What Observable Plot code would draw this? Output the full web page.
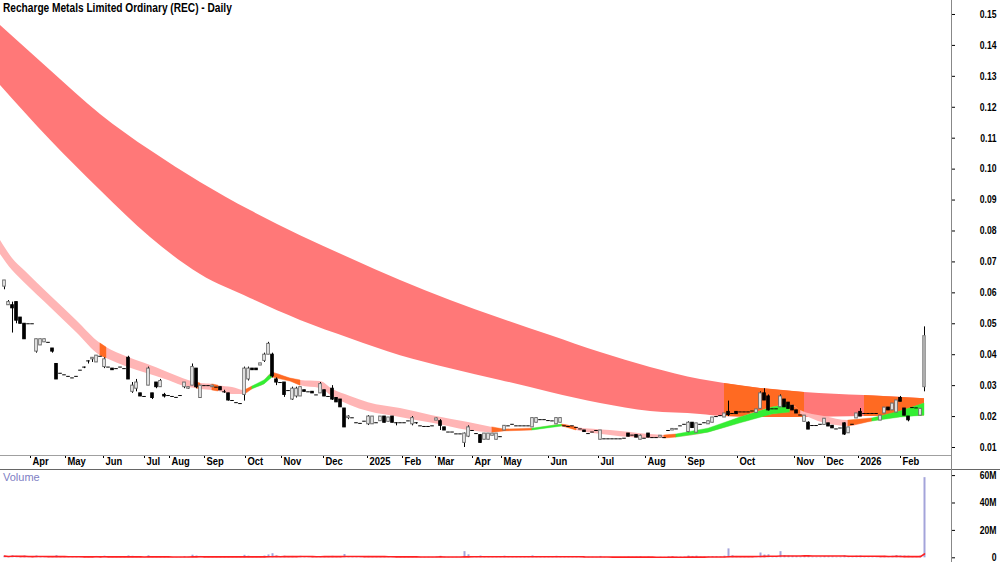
<!DOCTYPE html>
<html><head><meta charset="utf-8">
<script src="https://cdn.jsdelivr.net/npm/d3@7"></script>
<script src="https://cdn.jsdelivr.net/npm/@observablehq/plot@0.6"></script>
<style>
body{margin:0;background:#fff;}
#wrap{position:relative;width:1000px;height:562px;overflow:hidden;font-family:"Liberation Sans",Arial,sans-serif;}
#price{position:absolute;left:0;top:0;}
#vol{position:absolute;left:0;top:470px;}
.title{position:absolute;left:3px;top:0px;font-weight:bold;font-size:13px;color:#000;transform:scaleX(0.78);transform-origin:left top;white-space:nowrap;}
.vlabel{position:absolute;left:3px;top:471px;font-size:11px;color:#8080c4;}
.hl1{position:absolute;left:0;top:455px;width:952px;height:1px;background:#a0a0a0;}
.hl2{position:absolute;left:0;top:469px;width:1000px;height:1px;background:#666;}
.vl{position:absolute;left:951px;top:0;width:1px;height:562px;background:#888;}
</style></head>
<body><div id="wrap">
<div id="price"></div><div id="vol"></div>
<div class="hl1"></div><div class="hl2"></div><div class="vl"></div>
<div class="title">Recharge Metals Limited Ordinary (REC) - Daily</div>
<div class="vlabel">Volume</div>
</div>
<script>
// ---- Price candles (values in thousandths of a dollar), one per trading bar ----
const openM = [62,56,56,57,52,50,50,50,41,43,
 44,44,42,37,34,33.5,33,32.5,33,35,
 36,38,38.5,37.5,39.5,36,36,35.5,35.5,36,
 35.5,39,28,29,27.5,26.5,30,27.5,31,29.5,
 27,26.8,26.5,26.2,26.8,29.5,29,30,35.5,26,
 30,30,29.5,29.5,29.5,28,27.5,25.2,24.5,24.2,
 27,32,35.5,35.5,36.5,38,40,40,32,31,
 31,28.4,25.5,26.5,26.5,28.5,28,28,27,27.5,
 28.5,26.5,29,26,25.5,22.6,19.5,19.6,18,17.8,
 18.5,17.5,17.5,18,18.5,20,18.3,20,18,18,
 18,18.6,17.5,18,17,16.8,16.8,17,18.7,18.5,
 16.5,15,15,14.4,14.4,11.5,13.5,15.5,14.5,14,
 12.5,12.5,13.8,12.5,13.5,15.5,17,17.5,17,17,
 17,17,16.5,18,19,19,18.7,18.6,17.5,18,
 17,16.8,17,16.5,16,15.5,14.5,15,15.5,12.5,
 12.8,12.8,12.8,12.8,12.8,13,14.5,14,14,12.5,
 13,14.5,13.2,13.2,13.2,13.2,15.5,15.5,16,17,
 17.5,15,18,14.8,17.5,18,17.5,18,20,20.3,
 19.7,21.5,21,21.5,21.5,21.5,21.5,21.8,21.2,22.5,
 27.5,26.5,22.5,22.5,23,25.5,24.5,23.5,22,20.5,
 18.3,18,17.1,17.1,17.5,17.3,17.8,17,16,16.3,
 17.8,14.6,17.5,19.4,21.5,21,21,21,21,18.7,
 21,22.9,22,21.3,26,22.6,20,22.9,22.8,20.3,
 29.5];
const highM = [64,57.5,57,57,52,50,50,50,45,45,
 45,44,42,37,34,33.5,33,32.5,33,35,
 36,38,39,39.7,39.5,39,36,35.5,35.5,36,
 35.5,39.5,31,32,27.5,26.5,36,27.5,31,32,
 27.5,26.8,26.5,26.2,26.8,31,29.5,37,35.5,30,
 30,30,30,29.5,29.5,28.5,27.5,25.2,24.5,24.2,
 36,36,35.5,35.5,37.2,40.5,44,40.5,32.5,31,
 31,28.4,29.5,29.5,29.5,28.5,28,28,27,31,
 28.5,26.5,30,26,25.5,22.6,20.3,19.6,18,17.8,
 18.5,20.3,20,18,20,20,19.7,20,18,18,
 18,18.6,20,18,17,16.8,16.8,17,19.5,19,
 16.5,15,15,14.4,14.4,14.7,17,15.5,14.5,14.2,
 14.5,14.5,14.5,14.5,13.5,17,17,17.5,17,17,
 17,17,19.5,19.6,19,19,18.7,18.6,19.5,19.5,
 17,16.8,17,16.5,16,15.5,14.5,15,15.5,15.5,
 12.8,12.8,12.8,12.8,12.8,13,14.5,14,14,14,
 13,14.5,13.2,13.2,13.8,13.2,15.5,16,16,17,
 17.5,18.3,18,17.8,17.5,18,18.5,19.7,20,20.3,
 21,25,21,21.5,21.5,21.5,21.5,21.8,22.3,28,
 29,27,22.5,22.5,27,25.5,24.5,23.5,22,20.5,
 20.3,18.3,17.1,17.1,17.5,19.3,17.8,17,16,16.3,
 18,16.5,17.5,21,22.6,21,21,21,21,20.3,
 22.9,22.9,24.2,25.2,26.5,22.6,20,22.9,22.8,22.5,
 49];
const lowM = [61,56,47,50,50,45,50,50,40.5,43,
 44,44,40.5,32,34,33.5,33,32.5,33,35,
 35.5,37,37.5,37.5,39.5,35.5,36,35,35.5,36,
 35.5,32,27.5,28,26.5,26.5,30,25.5,29,29.5,
 26,26.8,26.5,26.2,26.8,29,28.8,30,29,26,
 30,30,29.5,29.5,28.5,27.5,25,25.2,24.5,24.2,
 25,31.5,35,35,36.5,37.5,40,32.5,30,31,
 26.2,28.4,25.2,26,26.5,28,28,27.5,27,27.5,
 26.5,26.5,25.2,24.6,23,16.5,19,19.6,18,17.8,
 18.5,17.1,17.5,18,18.5,18,18.3,18,17,18,
 18,18.6,17,17.5,17,16.8,16.8,17,18.7,15.5,
 15.5,15,15,14.4,14.4,10,13.2,15.5,14.5,11.3,
 12.5,12.5,13.8,12.5,13.5,15.5,17,17.5,17,17,
 17,17,16.5,18,19,19,18.7,18.6,17.5,18,
 17,16.8,17,16.5,16,15,14.5,15,15.5,12.5,
 12.8,12.8,12.8,12.8,12.8,13,13.5,14,13.2,12.5,
 13,13.2,13.2,13.2,13.2,13.2,15.5,15.5,16,17,
 17.5,14.8,16.3,14.8,17.5,18,17.5,18,20,20.3,
 19.7,20,21,20.8,21.5,21.5,21.5,21.8,21.2,22.5,
 25.2,21.8,22.5,22.5,23,23,22.5,22,21,20.5,
 18.3,15.8,17.1,17.1,17.5,17.3,16.8,16.2,16,16.3,
 13.9,14.6,17.5,19.4,20,21,21,21,21,18.7,
 21,22,22,21.3,24.8,20.3,18.3,22.9,22.8,20.3,
 28];
const closeM = [64,57,55,51,50,45,50,50,45,45,
 45,44,41,32,34,33.5,33,32.5,33,35,
 36,38,39,39.7,39.5,38.5,36,35,35.5,36,
 35.5,32,30,31,26.5,26.5,35.5,26,29.5,31.5,
 26.5,26.8,26.5,26.2,26.8,31,29.5,36,29.5,30,
 30,30,30,29.5,28.5,28,25.2,25.2,24.5,24.2,
 35.5,35.5,35,35,37.2,40,43.5,33,31,31,
 27,28.4,29,29,29.5,28,28,27.5,27,30.5,
 26.5,26.5,25.5,24.6,23,16.5,20,19.6,18,17.8,
 18.5,20,20,18,20,18,19.7,18,18,18,
 18,18.6,19.5,18,17,16.8,16.8,17,19.4,17,
 15.5,15,15,14.4,14.4,14.5,16.5,15.5,14.5,11.5,
 14.5,14.5,14.5,14.5,13.5,17,17,17.5,17,17,
 17,17,19.5,19.5,19,19,18.7,18.6,19.5,19.5,
 17,16.8,17,16.5,16,15,14.5,15,15.5,15.5,
 12.8,12.8,12.8,12.8,12.8,13,13.5,14,13.2,13.8,
 13,13.2,13.2,13.2,13.8,13.2,15.5,16,16,17,
 17.5,18,16.3,17.8,17.5,18,18.5,19.7,20,20.3,
 21,20.5,21,20.8,21.5,21.5,21.5,21.8,22.3,27.5,
 25.2,22,22.5,22.5,26.5,23,22.5,22,21,20.5,
 20.3,15.8,17.1,17.1,17.5,19.3,16.8,16.2,16,16.3,
 14.2,16.5,17.5,21,20,21,21,21,21,20.3,
 22.9,22,24.2,25.2,24.8,20.3,18.8,22.9,22.8,22.5,
 46];
// ---- Volume (millions) ----
const volumeM = [1.2,0.8,1.5,1.1,0.6,1.3,0.3,0.2,1.4,0.9,
 0.7,0.3,0.6,1.6,0.4,0.3,0.2,0.3,0.3,0.4,
 0.5,0.6,0.8,1.0,0.3,1.2,0.4,0.5,0.3,0.3,
 0.3,1.4,1.1,0.9,0.6,0.3,1.5,0.7,0.8,0.9,
 0.6,0.2,0.3,0.2,0.3,0.8,0.5,1.9,1.3,1.0,
 0.3,0.3,0.4,0.2,0.6,0.4,0.9,0.3,0.3,0.2,
 1.8,1.2,0.7,0.6,0.8,1.3,2.1,3.0,1.4,0.5,
 1.2,0.3,1.0,0.9,1.1,0.6,0.3,0.5,0.3,0.9,
 0.7,0.3,1.1,0.6,0.8,2.4,0.8,0.4,0.3,0.3,
 0.4,1.0,0.9,0.3,0.8,0.7,0.6,0.8,0.5,0.3,
 0.3,0.4,0.9,0.5,0.3,0.3,0.4,0.3,0.7,1.1,
 0.6,0.3,0.3,0.4,0.3,4.5,2.2,0.8,0.5,1.3,
 0.9,0.8,0.5,0.9,0.3,1.2,0.5,0.4,0.3,0.3,
 0.3,0.3,1.4,0.9,0.4,0.4,0.3,0.4,1.1,0.9,
 0.5,0.4,0.4,0.3,0.4,0.6,0.3,0.4,0.3,1.0,
 0.3,0.2,0.3,0.2,0.3,0.3,0.6,0.4,0.5,0.7,
 0.3,0.6,0.3,0.2,0.4,0.3,0.8,0.7,0.6,0.5,
 0.6,1.3,1.0,1.2,0.5,0.5,0.7,0.9,0.8,0.6,
 1.2,6.5,1.5,1.0,0.7,0.6,0.5,0.6,0.9,3.5,
 2.0,2.2,0.8,0.7,4.5,1.6,1.3,1.1,0.9,0.6,
 1.0,1.4,0.5,0.4,0.5,0.9,0.8,0.7,0.4,0.5,
 1.5,1.0,0.6,1.2,1.3,0.5,0.5,0.4,0.5,0.9,
 1.1,0.8,1.2,1.6,1.4,1.3,1.2,0.6,0.5,1.3,
 58.5];
// ---- Long-term band (bar index, upper/lower edge in thousandths, segment state) ----
const longX  = [-1,11.5,24,36.5,49,61.5,74,86.5,99,111.5,124,136.5,149,161.5,174,180,189,200,215,230];
const longHi = [146.4,131.9,117.7,106.0,95.7,86.6,78.5,71.1,64.0,57.5,51.7,46.2,40.7,35.9,32.0,30.7,29.1,27.8,26.8,25.8];
const longLo = [127.0,109.3,93.1,77.9,65.9,58.2,51.1,45.2,39.7,35.5,31.7,27.8,24.2,21.6,20.7,20.0,19.7,19.7,20.0,20.3];
const longState = ["r","r","r","r","r","r","r","r","r","r","r","r","r","r","r","o","o","r","o"];
// ---- Short-term band ----
const shortX  = [-1,2,5,11.5,18,24,25.5,31,35,41,46,48,49,52,53.5,57,60,62,65,67,71.5,74,79,82,86.5,91,99,107,116,122,125,132,139.5,143,151.5,161.5,165,168,176,184,192,196.5,199,205,211,217,224,230];
const shortHi = [76.9,71.1,67.2,59.1,51.1,43.6,42.3,39.1,37.2,34.2,31.7,31.0,30.7,30.4,30.0,29.4,28.4,29.7,31.7,34.2,32.3,31.7,31.3,28.8,26.5,24.5,22.6,20.3,18.1,16.5,15.8,16.1,17.4,16.5,15.5,14.2,13.9,14.2,16.1,19.7,22.9,23.9,22.0,20.0,18.7,19.4,21.6,24.2];
const shortLo = [72.4,67.2,63.3,55.3,47.2,39.7,38.8,35.9,34.2,31.7,29.4,29.1,28.8,28.4,28.1,27.1,27.1,28.8,30.4,32.6,31.3,30.0,29.1,26.5,23.6,21.6,19.7,17.8,15.5,14.8,15.2,15.5,16.8,15.5,13.9,12.9,12.9,13.2,14.8,17.8,20.7,21.3,20.7,17.8,16.8,18.4,19.7,20.3];
const shortState = ["p","p","p","p","p","o","p","p","p","p","p","o","p","o","p","p","o","g","g","o","o","p","p","p","p","p","p","p","p","o","o","g","o","p","p","p","o","g","g","g","g","o","p","p","o","g","g"];
// ---- Axis ticks ----
const monthIdx = [6.5,15.25,24.75,35,41.25,50,60.25,69.25,79.75,90.75,99.5,107.75,117,124.25,136,148.5,160.25,170.25,183.25,197.5,205,213.5,224];
const monthLabels = ["Apr","May","Jun","Jul","Aug","Sep","Oct","Nov","Dec","2025","Feb","Mar","Apr","May","Jun","Jul","Aug","Sep","Oct","Nov","Dec","2026","Feb"];
const priceTicks = [0.01,0.02,0.03,0.04,0.05,0.06,0.07,0.08,0.09,0.10,0.11,0.12,0.13,0.14,0.15];
const volTicks = [0,20,40,60];
const volTickLabels = ["0","20M","40M","60M"];

// ---- Build tables ----
const candles = openM.map((o,i)=>({i, o:o/1000, h:highM[i]/1000, l:lowM[i]/1000, c:closeM[i]/1000}));
const last = candles.length-1;
const upC = candles.filter(d=>d.c>d.o && d.i!==last);
const dnC = candles.filter(d=>d.c<d.o);
const flatC = candles.filter(d=>d.c===d.o);
const lastC = candles.filter(d=>d.i===last);
const vols = volumeM.map((v,i)=>({i, v}));
function bandRows(X,HI,LO){return X.map((x,k)=>({x, hi:HI[k]/1000, lo:LO[k]/1000}));}
// consecutive segments with the same state are merged into one run (no seams)
function runRows(X,HI,LO,S,skip){
  const r=[]; let k=0, run=0;
  while(k<S.length){
    let e=k; while(e+1<S.length && S[e+1]===S[k]) e++;
    if(S[k]!==skip){ for(let j=k;j<=e+1;j++) r.push({x:X[j],hi:HI[j]/1000,lo:LO[j]/1000,run,s:S[k]}); }
    run++; k=e+1;
  }
  return r;
}
const longRows = bandRows(longX,longHi,longLo);
const longSegs = runRows(longX,longHi,longLo,longState,"r");
const shortRows = bandRows(shortX,shortHi,shortLo);
const shortSegs = runRows(shortX,shortHi,shortLo,shortState,"p");

const FONT = '"Liberation Sans",Arial,sans-serif';
const XDOM = [-1, 236.75];
const colorScale = {domain:["r","o","p","g"], range:["#ff7878","#ff6a22","#ffb5b5","#33ee33"]};

const price = Plot.plot({
  width:1000, height:470, marginLeft:0, marginRight:49, marginTop:0, marginBottom:15,
  style:{fontFamily:FONT, fontSize:"10.5px", fontWeight:"bold", background:"transparent", color:"#000"},
  x:{domain:XDOM, ticks:monthIdx, tickSize:3, tickFormat:()=>"", label:null},
  y:{domain:[0.007413,0.15452], axis:"right", ticks:priceTicks, tickSize:3, tickFormat:()=>"", label:null},
  color:colorScale,
  marks:[
    Plot.areaY(longRows,{x:"x", y1:"lo", y2:"hi", fill:"#ff7878", curve:"monotone-x"}),
    Plot.areaY(longSegs,{x:"x", y1:"lo", y2:"hi", z:"run", fill:"s", curve:"linear"}),
    Plot.areaY(shortRows,{x:"x", y1:"lo", y2:"hi", fill:"#ffb5b5", curve:"monotone-x"}),
    Plot.areaY(shortSegs,{x:"x", y1:"lo", y2:"hi", z:"run", fill:"s", stroke:"s", strokeWidth:0.4, curve:"linear"}),
    Plot.ruleX(candles,{x:"i", y1:"l", y2:"h", stroke:"#000", strokeWidth:1}),
    Plot.ruleY(flatC,{y:"c", x1:d=>d.i-0.45, x2:d=>d.i+0.45, stroke:"#000", strokeWidth:1}),
    Plot.rect(upC,{x1:d=>d.i-0.32, x2:d=>d.i+0.32, y1:"o", y2:"c", fill:"#fff", stroke:"#6a6a6a", strokeWidth:1}),
    Plot.rect(dnC,{x1:d=>d.i-0.32, x2:d=>d.i+0.32, y1:"o", y2:"c", fill:"#000", stroke:"#000", strokeWidth:1}),
    Plot.rect(lastC,{x1:d=>d.i-0.32, x2:d=>d.i+0.32, y1:"o", y2:"c", fill:"#b8b8b8", stroke:"#888", strokeWidth:1}),
    Plot.text(priceTicks,{y:d=>d, text:d=>d.toFixed(2), frameAnchor:"right", textAnchor:"end", dx:45}),
    Plot.text(monthIdx,{x:d=>d, text:(d,i)=>monthLabels[i], frameAnchor:"bottom", textAnchor:"start", dx:2, dy:9, fontSize:11.5})
  ]
});
document.getElementById("price").appendChild(price);

const vol = Plot.plot({
  width:1000, height:92, marginLeft:0, marginRight:49, marginTop:0, marginBottom:0,
  style:{fontFamily:FONT, fontSize:"10.5px", fontWeight:"bold", background:"transparent", color:"#000"},
  x:{domain:XDOM, axis:null},
  y:{domain:[-3.43,63.72], axis:"right", ticks:volTicks, tickSize:3, tickFormat:()=>"", label:null},
  marks:[
    Plot.ruleX(vols,{x:"i", y:"v", stroke:"#a4a4da", strokeWidth:2}),
    Plot.lineY(vols, Plot.windowY({k:30, anchor:"end"},{x:"i", y:"v", stroke:"#ff2020", strokeWidth:1.6})),
    Plot.text(volTicks,{y:d=>d, text:(d,i)=>volTickLabels[i], frameAnchor:"right", textAnchor:"end", dx:45})
  ]
});
document.getElementById("vol").appendChild(vol);

// narrow the label glyphs horizontally around their anchor (the original uses a condensed face)
function condense(svg, s){
  svg.querySelectorAll('g[aria-label="text"] text').forEach(t=>{
    const b = t.getBBox();
    if (!b || !isFinite(b.x)) return;
    const anchor = getComputedStyle(t).textAnchor;
    const ax = anchor === "end" ? b.x + b.width : anchor === "middle" ? b.x + b.width/2 : b.x;
    const tr = t.getAttribute("transform") || "";
    t.setAttribute("transform", `${tr} translate(${ax},0) scale(${s},1) translate(${-ax},0)`);
  });
}
condense(price, 0.82);
condense(vol, 0.82);
</script>
</body></html>
